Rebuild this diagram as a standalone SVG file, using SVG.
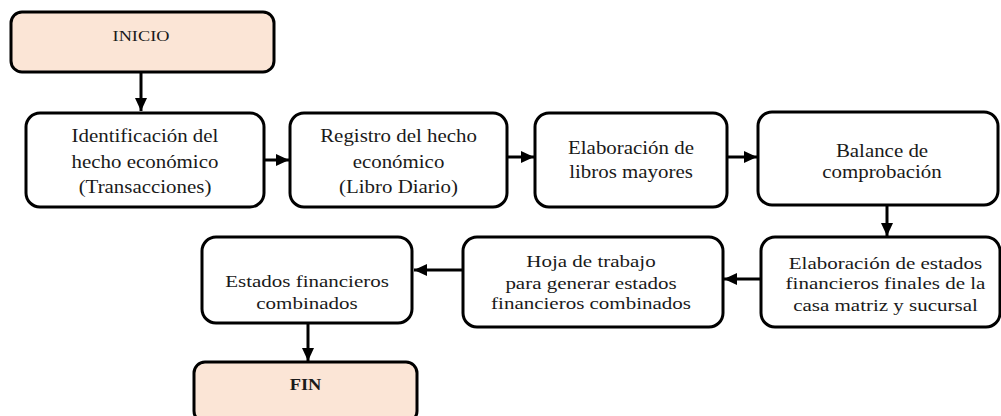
<svg xmlns="http://www.w3.org/2000/svg" width="1001" height="416" viewBox="0 0 1001 416">
<defs>
<style>
.box{fill:#ffffff;stroke:#000;stroke-width:3;}
.term{fill:#fbe5d6;stroke:#000;stroke-width:3;}
.t{font-family:"Liberation Serif","Times New Roman",serif;fill:#1a1a1a;text-anchor:middle;}
.r1{font-size:19px;}
.r2{font-size:17.5px;}
.lbl{font-size:15px;}
.fin{font-size:16px;font-weight:bold;}
.conn{stroke:#000;stroke-width:3;fill:none;marker-end:url(#ah);}
</style>
<marker id="ah" markerUnits="userSpaceOnUse" markerWidth="14" markerHeight="14" viewBox="0 0 14 14" refX="13" refY="7" orient="auto">
<path d="M0,1 L13,7 L0,13 Z" fill="#000"/>
</marker>
</defs>

<g id="connectors">
<line class="conn" x1="141" y1="72" x2="141" y2="111"/>
<line class="conn" x1="264" y1="160" x2="289" y2="160"/>
<line class="conn" x1="507" y1="157" x2="534" y2="157"/>
<line class="conn" x1="727" y1="157" x2="757" y2="157"/>
<line class="conn" x1="887" y1="205" x2="887" y2="236"/>
<line class="conn" x1="761" y1="279" x2="724" y2="279"/>
<line class="conn" x1="463" y1="270" x2="414" y2="270"/>
<line class="conn" x1="308" y1="323" x2="308" y2="361"/>
</g>

<g id="inicio">
<rect class="term" x="11" y="12" width="263" height="60" rx="11"/>
<g transform="translate(141,0) scale(1.22,1)"><text class="t lbl" x="0" y="41">INICIO</text></g>
</g>

<g id="n1">
<rect class="box" x="26" y="113" width="238" height="94" rx="14"/>
<g transform="translate(145,0) scale(1.1,1)">
<text class="t r1" x="0" y="142.5">Identificación del</text>
<text class="t r1" x="0" y="168">hecho económico</text>
<text class="t r1" x="0" y="193.5">(Transacciones)</text>
</g>
</g>

<g id="n2">
<rect class="box" x="290" y="113" width="217" height="94" rx="14"/>
<g transform="translate(398.5,0) scale(1.1,1)">
<text class="t r1" x="0" y="142.5">Registro del hecho</text>
<text class="t r1" x="0" y="168">económico</text>
<text class="t r1" x="0" y="193.5">(Libro Diario)</text>
</g>
</g>

<g id="n3">
<rect class="box" x="535" y="113" width="192" height="94" rx="14"/>
<g transform="translate(631,0) scale(1.1,1)">
<text class="t r1" x="0" y="154.5">Elaboración de</text>
<text class="t r1" x="0" y="178">libros mayores</text>
</g>
</g>

<g id="n4">
<rect class="box" x="758" y="112" width="240" height="93" rx="14"/>
<g transform="translate(882,0) scale(1.1,1)">
<text class="t r1" x="0" y="157">Balance de</text>
<text class="t r1" x="0" y="178">comprobación</text>
</g>
</g>

<g id="n5">
<rect class="box" x="761" y="237" width="239" height="90" rx="14"/>
<g transform="translate(885.5,0) scale(1.2,1)">
<text class="t r2" x="0" y="269">Elaboración de estados</text>
<text class="t r2" x="0" y="289.5">financieros finales de la</text>
<text class="t r2" x="0" y="311">casa matriz y sucursal</text>
</g>
</g>

<g id="n6">
<rect class="box" x="463" y="237" width="260" height="90" rx="14"/>
<g transform="translate(591,0) scale(1.2,1)">
<text class="t r2" x="0" y="267.5">Hoja de trabajo</text>
<text class="t r2" x="0" y="289">para generar estados</text>
<text class="t r2" x="0" y="309">financieros combinados</text>
</g>
</g>

<g id="n7">
<rect class="box" x="202" y="237" width="210" height="86" rx="14"/>
<g transform="translate(307,0) scale(1.2,1)">
<text class="t r2" x="0" y="287.5">Estados financieros</text>
<text class="t r2" x="0" y="309">combinados</text>
</g>
</g>

<g id="fin">
<rect class="term" x="194" y="362" width="223" height="60" rx="11"/>
<g transform="translate(305.5,0) scale(1.15,1)"><text class="t fin" x="0" y="390.5">FIN</text></g>
</g>
</svg>
